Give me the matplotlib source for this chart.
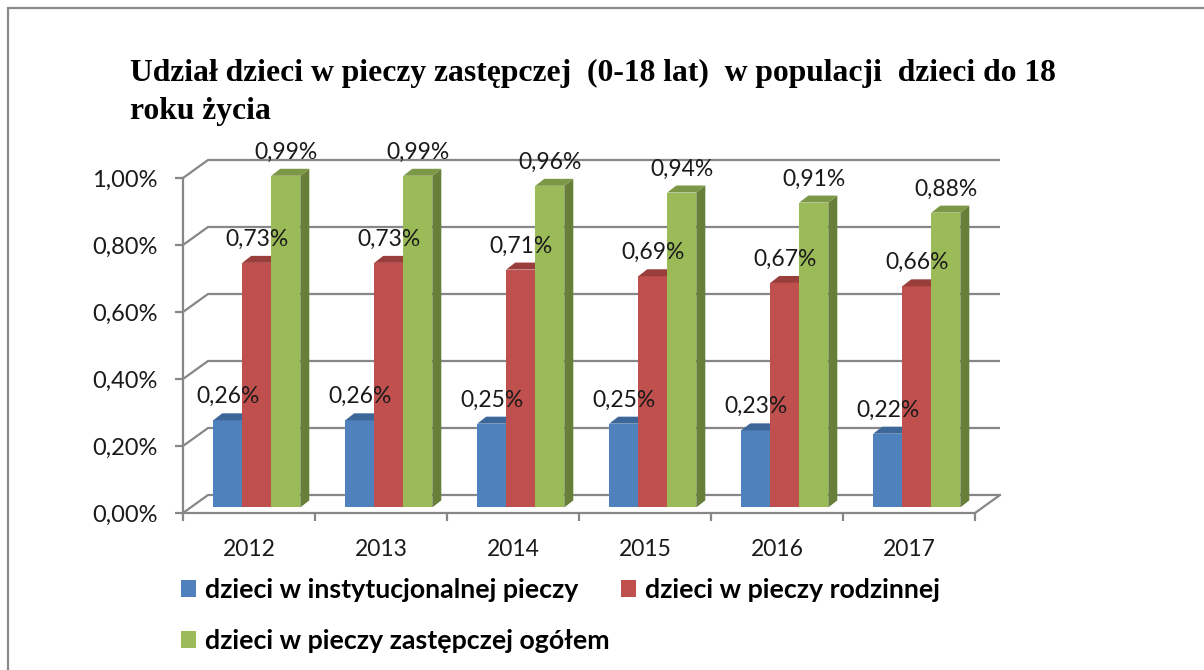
import matplotlib
matplotlib.use("Agg")
import matplotlib.pyplot as plt
from matplotlib.patches import Polygon, Rectangle, Patch

years = ["2012", "2013", "2014", "2015", "2016", "2017"]
series_names = [
    "dzieci w instytucjonalnej pieczy",
    "dzieci w pieczy rodzinnej",
    "dzieci w pieczy zastępczej ogółem",
]
inst = [0.26, 0.26, 0.25, 0.25, 0.23, 0.22]
rodz = [0.73, 0.73, 0.71, 0.69, 0.67, 0.66]
ogol = [0.99, 0.99, 0.96, 0.94, 0.91, 0.88]
y_ticks = [0.0, 0.2, 0.4, 0.6, 0.8, 1.0]
title = "Udział dzieci w pieczy zastępczej  (0-18 lat)  w populacji  dzieci do 18\nroku życia"

front_cols = ["#4F81BD", "#C0504D", "#9BBB59"]
top_cols = ["#3D6699", "#9A3E3B", "#7C9846"]
side_cols = ["#365A87", "#883634", "#687F3A"]
grid_col = "#878787"

W, H = 1204, 670
fig = plt.figure(figsize=(W / 100, H / 100), dpi=100)

# pseudo-3d geometry (category units / percent units)
px_x, px_y = 132, 335
x0_px, y0_px = 183, 513
DX, DY = 25 / px_x, 18 / px_y          # wall depth
f0 = 0.31                              # bar front depth fraction
bdx, bdy = 9 / px_x, 7 / px_y          # bar depth
bw = 0.22
xmax, ymax = 6.35, 1.15

ax = fig.add_axes([x0_px / W, (H - y0_px) / H, xmax * px_x / W, ymax * px_y / H])
ax.set_xlim(0, xmax)
ax.set_ylim(0, ymax)
ax.patch.set_alpha(0)

n = len(years)
# back wall gridlines + left wall diagonals
for t in y_ticks:
    ax.plot([0, DX, n + DX], [t, t + DY, t + DY], color=grid_col, lw=1.6,
            zorder=1, clip_on=False, solid_capstyle="butt")
ax.plot([n, n + DX], [0, DY], color=grid_col, lw=1.6, zorder=1, clip_on=False)

lab_font = dict(family="Lato", size=16.5, color="#1a1a1a")
for i in range(n):
    for j, vals in enumerate([inst, rodz, ogol]):
        v = vals[i]
        x = i + (1 - 3 * bw) / 2 + j * bw + f0 * DX
        b = f0 * DY
        ax.bar(x, v, width=bw, bottom=b, align="edge", color=front_cols[j],
               zorder=3 + i * 3 + j, lw=0)
        side = Polygon([(x + bw, b), (x + bw + bdx, b + bdy),
                        (x + bw + bdx, b + v + bdy), (x + bw, b + v)],
                       closed=True, facecolor=side_cols[j], lw=0,
                       zorder=3 + i * 3 + j)
        top = Polygon([(x, b + v), (x + bw, b + v),
                       (x + bw + bdx, b + v + bdy), (x + bdx, b + v + bdy)],
                      closed=True, facecolor=top_cols[j], lw=0,
                      zorder=3 + i * 3 + j)
        ax.add_patch(side)
        ax.add_patch(top)
        ax.annotate(f"{v:.2f}".replace(".", ",") + "%", (x + bw / 2, b + v),
                    xytext=(0, 17), textcoords="offset points",
                    ha="center", va="center", zorder=30, **lab_font)

for s in ["top", "right"]:
    ax.spines[s].set_visible(False)
ax.spines["left"].set_bounds(0, 1.0)
ax.spines["bottom"].set_bounds(0, n)
for s in ["left", "bottom"]:
    ax.spines[s].set_color(grid_col)
    ax.spines[s].set_linewidth(1.6)
    ax.spines[s].set_zorder(2)

ax.set_yticks(y_ticks)
ax.set_yticklabels([f"{t:.2f}".replace(".", ",") + "%" for t in y_ticks])
ax.set_xticks(range(n + 1))
ax.set_xticklabels([])
ax.set_xticks([i + 0.5 for i in range(n)], minor=True)
ax.set_xticklabels(years, minor=True)
ax.tick_params(axis="both", which="major", direction="out", length=6,
               width=1.6, color=grid_col)
ax.tick_params(axis="y", pad=12.5, labelsize=17, labelcolor="#1a1a1a")
ax.tick_params(axis="x", which="minor", length=0, pad=19, labelsize=16.5,
               labelcolor="#1a1a1a")
for lab in ax.get_yticklabels() + ax.get_xticklabels(minor=True):
    lab.set_family("Lato")

fig.text(130 / W, 1 - 59 / H, title, family="Liberation Serif", weight="bold",
         size=22.8, va="top", ha="left", linespacing=1.42, color="black")

handles = [Patch(facecolor=c, edgecolor="none") for c in front_cols]
order = [0, 2, 1]
fig.legend([handles[k] for k in order], [series_names[k] for k in order],
           ncol=2, loc="upper left", bbox_to_anchor=(181 / W, 1 - 578 / H),
           frameon=False, borderpad=0, borderaxespad=0,
           handlelength=0.57, handleheight=0.57, handletextpad=0.34,
           labelspacing=1.0, columnspacing=0.4,
           prop=dict(family="Lato", weight="bold", size=19.3))

fig.add_artist(Rectangle((8 / W, -0.05), 1.1, 1 - 8 / H + 0.05,
                         transform=fig.transFigure, fill=False,
                         edgecolor="#8a8a8a", lw=1.6))

fig.savefig("out.png", dpi=100)
